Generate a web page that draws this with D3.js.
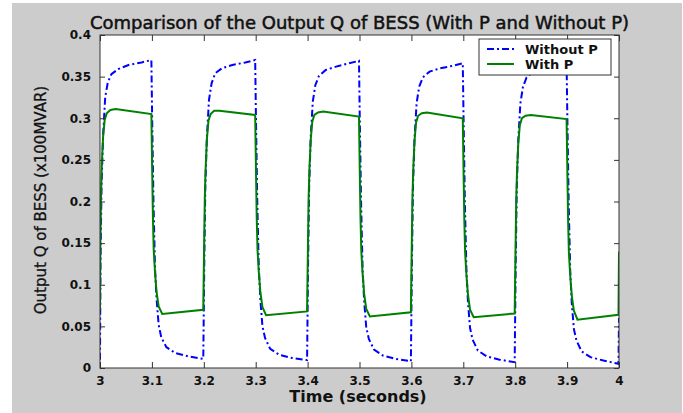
<!DOCTYPE html>
<html>
<head>
<meta charset="utf-8">
<script src="https://cdn.jsdelivr.net/npm/d3@7"></script>
<style>
  body { margin: 0; background: #fff; }
</style>
</head>
<body>
<div id="chart"></div>
<script>
const xTicks = [3, 3.1, 3.2, 3.3, 3.4, 3.5, 3.6, 3.7, 3.8, 3.9, 4];
const xTickLabels = ["3", "3.1", "3.2", "3.3", "3.4", "3.5", "3.6", "3.7", "3.8", "3.9", "4"];
const yTicks = [0, 0.05, 0.1, 0.15, 0.2, 0.25, 0.3, 0.35, 0.4];
const yTickLabels = ["0", "0.05", "0.1", "0.15", "0.2", "0.25", "0.3", "0.35", "0.4"];
const seriesNames = ["Without P", "With P"];

// [time (s), Q (x100MVAR)]
const withoutP = [
  [3.000, 0.010], [3.001, 0.130], [3.003, 0.220], [3.006, 0.280], [3.010, 0.325],
  [3.015, 0.343], [3.022, 0.353], [3.035, 0.359], [3.055, 0.364], [3.080, 0.367],
  [3.099, 0.370], [3.1005, 0.300], [3.103, 0.200], [3.106, 0.120], [3.109, 0.083],
  [3.113, 0.052], [3.118, 0.037], [3.128, 0.025], [3.145, 0.018], [3.170, 0.014],
  [3.199, 0.011],
  [3.201, 0.130], [3.203, 0.220], [3.206, 0.278], [3.210, 0.322], [3.215, 0.342],
  [3.222, 0.354], [3.235, 0.360], [3.255, 0.364], [3.280, 0.367], [3.299, 0.370],
  [3.3005, 0.300], [3.303, 0.200], [3.306, 0.120], [3.309, 0.082], [3.313, 0.050],
  [3.318, 0.036], [3.328, 0.023], [3.345, 0.016], [3.370, 0.012], [3.399, 0.0095],
  [3.401, 0.128], [3.403, 0.218], [3.406, 0.277], [3.410, 0.320], [3.415, 0.340],
  [3.422, 0.351], [3.435, 0.358], [3.455, 0.362], [3.480, 0.366], [3.499, 0.369],
  [3.5005, 0.300], [3.503, 0.200], [3.506, 0.118], [3.509, 0.080], [3.513, 0.049],
  [3.518, 0.035], [3.528, 0.022], [3.545, 0.015], [3.570, 0.011], [3.599, 0.008],
  [3.601, 0.127], [3.603, 0.216], [3.606, 0.275], [3.610, 0.318], [3.615, 0.338],
  [3.622, 0.349], [3.635, 0.356], [3.655, 0.360], [3.680, 0.363], [3.699, 0.366],
  [3.7005, 0.300], [3.703, 0.200], [3.706, 0.118], [3.709, 0.079], [3.713, 0.048],
  [3.718, 0.034], [3.728, 0.021], [3.745, 0.014], [3.770, 0.010], [3.799, 0.007],
  [3.801, 0.127], [3.803, 0.216], [3.806, 0.275], [3.810, 0.318], [3.815, 0.338],
  [3.822, 0.349], [3.835, 0.356], [3.855, 0.360], [3.880, 0.363], [3.899, 0.366],
  [3.9005, 0.300], [3.903, 0.200], [3.906, 0.117], [3.909, 0.078], [3.913, 0.047],
  [3.918, 0.033], [3.928, 0.020], [3.945, 0.013], [3.970, 0.009], [3.999, 0.005],
  [4.000, 0.060]
];

const withP = [
  [3.000, 0.070], [3.0008, 0.155], [3.002, 0.210], [3.0035, 0.245], [3.006, 0.278],
  [3.009, 0.298], [3.013, 0.306], [3.020, 0.310], [3.030, 0.311], [3.099, 0.305],
  [3.1005, 0.240], [3.102, 0.180], [3.1035, 0.142], [3.106, 0.115], [3.109, 0.091],
  [3.113, 0.074], [3.120, 0.065], [3.199, 0.070],
  [3.2008, 0.155], [3.202, 0.206], [3.2035, 0.240], [3.206, 0.275], [3.209, 0.297],
  [3.213, 0.305], [3.220, 0.309], [3.230, 0.309], [3.299, 0.304],
  [3.3005, 0.240], [3.302, 0.180], [3.3035, 0.142], [3.306, 0.115], [3.309, 0.091],
  [3.313, 0.073], [3.320, 0.0635], [3.399, 0.068],
  [3.4008, 0.153], [3.402, 0.205], [3.4035, 0.239], [3.406, 0.274], [3.409, 0.296],
  [3.413, 0.304], [3.420, 0.307], [3.430, 0.308], [3.499, 0.302],
  [3.5005, 0.238], [3.502, 0.178], [3.5035, 0.140], [3.506, 0.113], [3.509, 0.089],
  [3.513, 0.071], [3.520, 0.062], [3.599, 0.067],
  [3.6008, 0.152], [3.602, 0.204], [3.6035, 0.238], [3.606, 0.273], [3.609, 0.295],
  [3.613, 0.303], [3.620, 0.306], [3.630, 0.307], [3.699, 0.300],
  [3.7005, 0.237], [3.702, 0.177], [3.7035, 0.139], [3.706, 0.112], [3.709, 0.088],
  [3.713, 0.070], [3.720, 0.061], [3.799, 0.0655],
  [3.8008, 0.150], [3.802, 0.202], [3.8035, 0.236], [3.806, 0.271], [3.809, 0.292],
  [3.813, 0.300], [3.820, 0.303], [3.830, 0.304], [3.899, 0.299],
  [3.9005, 0.236], [3.902, 0.176], [3.9035, 0.138], [3.906, 0.111], [3.909, 0.087],
  [3.913, 0.069], [3.920, 0.058], [3.999, 0.064],
  [4.000, 0.140]
];

const W = 683, H = 413;
const plot = { left: 100, right: 619, top: 35, bottom: 368 };

const svg = d3.select("#chart")
  .append("svg")
  .attr("width", W)
  .attr("height", H);

// figure background
svg.append("rect")
  .attr("x", 12).attr("y", 3)
  .attr("width", 670).attr("height", 410)
  .attr("fill", "#cccccc");

svg.append("rect")
  .attr("x", plot.left).attr("y", plot.top)
  .attr("width", plot.right - plot.left)
  .attr("height", plot.bottom - plot.top)
  .attr("fill", "#fff");

const x = d3.scaleLinear().domain([3, 4]).range([plot.left, plot.right]);
const y = d3.scaleLinear().domain([0, 0.4]).range([plot.bottom, plot.top]);

svg.append("clipPath").attr("id", "clip")
  .append("rect")
  .attr("x", plot.left).attr("y", plot.top)
  .attr("width", plot.right - plot.left)
  .attr("height", plot.bottom - plot.top);

const line = d3.line()
  .x(d => x(d[0]))
  .y(d => y(d[1]));

const lines = svg.append("g").attr("clip-path", "url(#clip)");

lines.append("path")
  .datum(withoutP)
  .attr("d", line)
  .attr("fill", "none")
  .attr("stroke", "#0000ff")
  .attr("stroke-width", 2)
  .attr("stroke-dasharray", "7 3 2 3");

lines.append("path")
  .datum(withP)
  .attr("d", line)
  .attr("fill", "none")
  .attr("stroke", "#008000")
  .attr("stroke-width", 2);

// axes: ticks point inward on all four sides
const tickStyle = g => {
  g.select(".domain").remove();
  g.selectAll(".tick line").attr("stroke", "#333");
  g.selectAll(".tick text")
    .style("font-family", "DejaVu Sans")
    .style("font-weight", "bold")
    .style("font-size", "12px")
    .attr("fill", "#111");
};

svg.append("g")
  .attr("transform", `translate(0,${plot.bottom})`)
  .call(d3.axisBottom(x).tickValues(xTicks)
    .tickFormat((d, i) => xTickLabels[i])
    .tickSizeInner(-6).tickPadding(8))
  .call(tickStyle);

svg.append("g")
  .attr("transform", `translate(0,${plot.top})`)
  .call(d3.axisTop(x).tickValues(xTicks).tickSizeInner(-6).tickFormat(""))
  .call(tickStyle);

svg.append("g")
  .attr("transform", `translate(${plot.left},0)`)
  .call(d3.axisLeft(y).tickValues(yTicks)
    .tickFormat((d, i) => yTickLabels[i])
    .tickSizeInner(-5).tickPadding(9))
  .call(tickStyle);

svg.append("g")
  .attr("transform", `translate(${plot.right},0)`)
  .call(d3.axisRight(y).tickValues(yTicks).tickSizeInner(-5).tickFormat(""))
  .call(tickStyle);

svg.append("rect")
  .attr("x", plot.left).attr("y", plot.top)
  .attr("width", plot.right - plot.left)
  .attr("height", plot.bottom - plot.top)
  .attr("fill", "none")
  .attr("stroke", "#333")
  .attr("stroke-width", 1);

// titles
svg.append("text")
  .attr("x", (plot.left + plot.right) / 2)
  .attr("y", 29)
  .attr("text-anchor", "middle")
  .style("font-family", "DejaVu Sans")
  .style("font-size", "18px")
  .attr("fill", "#111")
  .attr("stroke", "#111")
  .attr("stroke-width", 0.5)
  .text("Comparison of the Output Q of BESS (With P and Without P)");

svg.append("text")
  .attr("x", 358)
  .attr("y", 402)
  .attr("text-anchor", "middle")
  .style("font-family", "DejaVu Sans")
  .style("font-weight", "bold")
  .style("font-size", "16px")
  .attr("fill", "#111")
  .text("Time (seconds)");

svg.append("text")
  .attr("transform", "translate(46,200) rotate(-90)")
  .attr("text-anchor", "middle")
  .style("font-family", "DejaVu Sans")
  .style("font-size", "15px")
  .attr("fill", "#111")
  .attr("stroke", "#111")
  .attr("stroke-width", 0.3)
  .text("Output Q of BESS (x100MVAR)");

// legend
const legend = svg.append("g").attr("transform", "translate(479,39)");

legend.append("rect")
  .attr("width", 132).attr("height", 36)
  .attr("fill", "#fff")
  .attr("stroke", "#333");

const legendStyles = [
  { color: "#0000ff", dash: "7 3 2 3" },
  { color: "#008000", dash: null }
];

seriesNames.forEach((name, i) => {
  legend.append("line")
    .attr("x1", 8).attr("x2", 35)
    .attr("y1", 10 + i * 15).attr("y2", 10 + i * 15)
    .attr("stroke", legendStyles[i].color)
    .attr("stroke-width", 2)
    .attr("stroke-dasharray", legendStyles[i].dash);

  legend.append("text")
    .attr("x", 46)
    .attr("y", 15 + i * 15)
    .style("font-family", "DejaVu Sans")
    .style("font-weight", "bold")
    .style("font-size", "13px")
    .attr("fill", "#111")
    .text(name);
});
</script>
</body>
</html>
